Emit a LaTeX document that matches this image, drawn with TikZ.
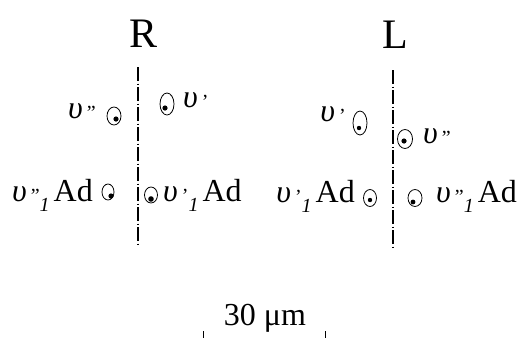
\documentclass[tikz,border=0pt]{standalone}
\usepackage{fontspec}
\setmainfont{Liberation Serif}
\usetikzlibrary{shapes.geometric}
\newcommand\upsl{{\itshape υ}}
\newcommand\prm[1]{\hspace{4pt}{\fontsize{20}{20}\selectfont\raisebox{-1pt}{#1}}}
\newcommand\subone{{\fontsize{20}{20}\selectfont\itshape\raisebox{-10pt}{1}}}
\tikzset{
  title/.style={font=\fontsize{42}{42}\selectfont, inner sep=0pt},
  lab/.style={font=\fontsize{32}{32}\selectfont, inner sep=0pt},
  cell/.style={draw, ellipse, line width=0.8pt, inner sep=0pt},
  axis/.style={line width=1.1pt, dash pattern=on 14pt off 2.5pt on 1pt off 2.5pt},
  tick/.style={line width=0.6pt}
}
\begin{document}
\begin{tikzpicture}[x=1pt,y=-1pt]
\useasboundingbox (0,0) rectangle (521,338);
% titles
\node[title, anchor=base] (R) at (144,47) {R};
\node[title, anchor=base] (L) at (395,48) {L};
% midlines
\coordinate (r1) at (138,67); \coordinate (r2) at (138,245);
\coordinate (l1) at (393,70); \coordinate (l2) at (393,248);
\draw[axis] (r1) -- (r2);
\draw[axis] (l1) -- (l2);
% R side cells
\node[cell, minimum width=14pt, minimum height=18pt] (cA) at (114,116) {};
\fill (116,119) circle (2.6pt);
\node[lab, anchor=base east] (tA) at (96,118) {\upsl\prm{''}};
\node[cell, minimum width=14pt, minimum height=22pt] (cB) at (167,104) {};
\fill (165,108) circle (2.6pt);
\node[lab, anchor=base west] (tB) at (183,107) {\upsl\prm{'}};
\node[cell, minimum width=12pt, minimum height=16pt] (cC) at (108,192) {};
\fill (111,196) circle (2.6pt);
\node[lab, anchor=base east] (tC) at (93,201) {\upsl\prm{''}\subone\hspace{4pt}Ad};
\node[cell, minimum width=13pt, minimum height=16pt] (cD) at (151,195) {};
\fill (151,199) circle (2.8pt);
\node[lab, anchor=base west] (tD) at (163,201) {\upsl\prm{'}\subone\hspace{4pt}Ad};
% L side cells
\node[cell, minimum width=14pt, minimum height=24pt] (cE) at (360,123) {};
\fill (359,128) circle (2.2pt);
\node[lab, anchor=base east] (tE) at (346,121) {\upsl\prm{'}};
\node[cell, minimum width=15pt, minimum height=19pt] (cF) at (405,139) {};
\fill (404,141) circle (2.6pt);
\node[lab, anchor=base west] (tF) at (423,143) {\upsl\prm{''}};
\node[cell, minimum width=13pt, minimum height=17pt] (cG) at (370,198) {};
\fill (370,200) circle (2.2pt);
\node[lab, anchor=base east] (tG) at (355,202) {\upsl\prm{'}\subone\hspace{4pt}Ad};
\node[cell, minimum width=14pt, minimum height=17pt] (cH) at (415,198) {};
\fill (413,202) circle (2.4pt);
\node[lab, anchor=base west] (tH) at (436,202) {\upsl\prm{''}\subone\hspace{4pt}Ad};
% scale bar
\node[font=\fontsize{32}{32}\selectfont, inner sep=0pt, anchor=base] (sc) at (265,325) {30 μm};
\coordinate (s1a) at (203,331); \coordinate (s1b) at (203,338);
\coordinate (s2a) at (325,331); \coordinate (s2b) at (325,338);
\draw[tick] (s1a) -- (s1b);
\draw[tick] (s2a) -- (s2b);
\end{tikzpicture}
\end{document}
